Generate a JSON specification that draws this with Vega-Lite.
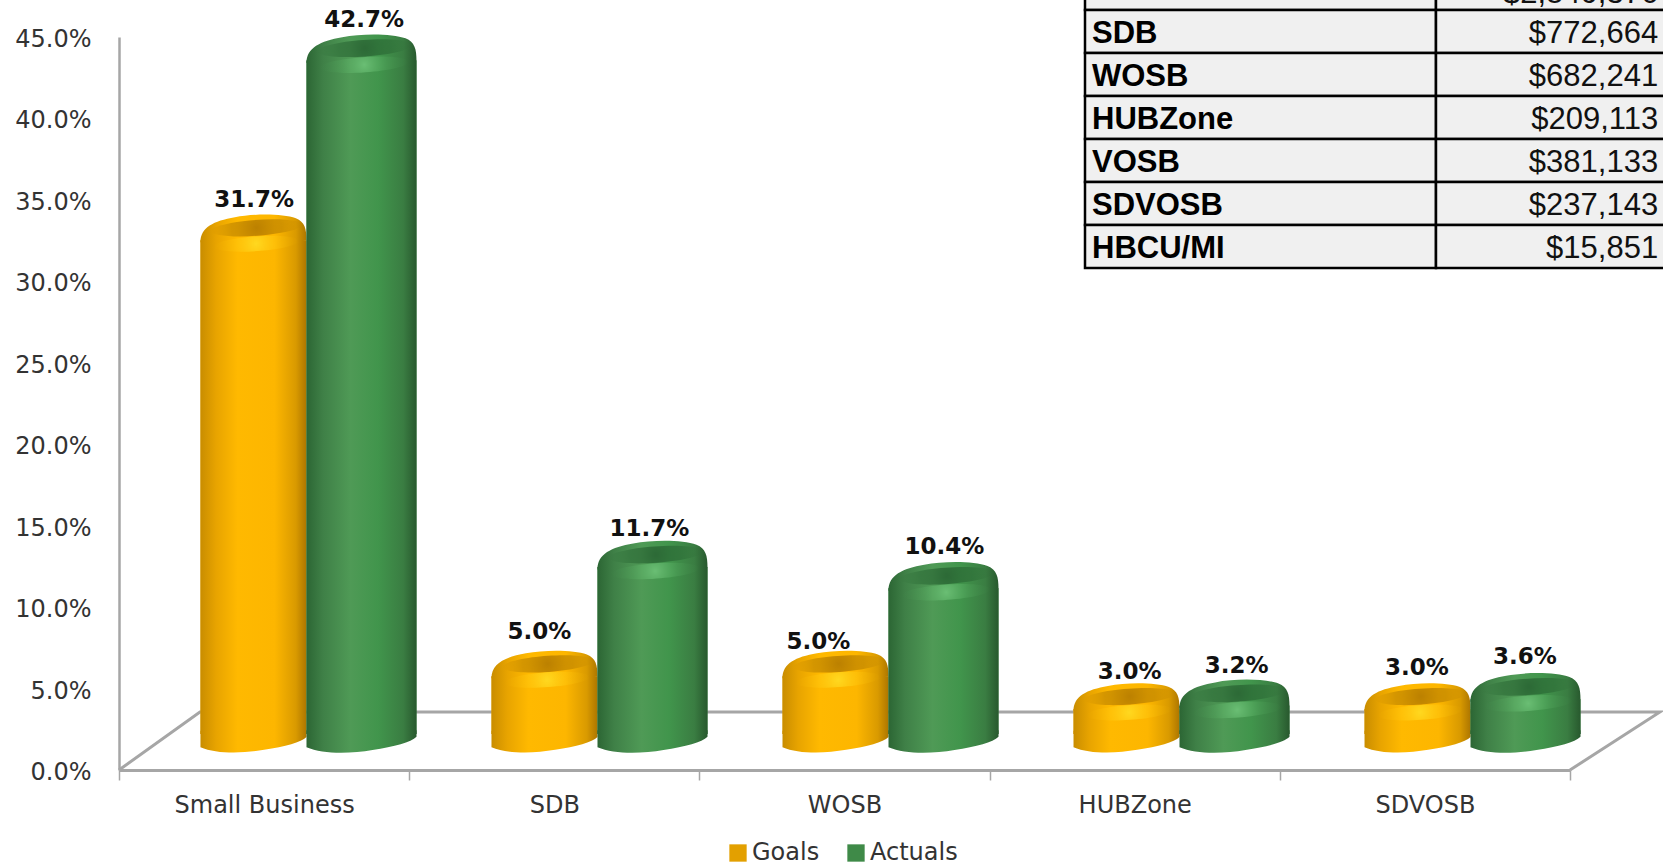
{
"$schema":"https://vega.github.io/schema/vega-lite/v6.json",
"width":1663,"height":865,"padding":0,"autosize":{"type":"none"},"background":"white",
"config":{"view":{"stroke":null},"font":"DejaVu Sans"},
"datasets":{
"chart":[
{"category":"Small Business","series":"Goals","value":0.317},
{"category":"SDB","series":"Goals","value":0.05},
{"category":"WOSB","series":"Goals","value":0.05},
{"category":"HUBZone","series":"Goals","value":0.03},
{"category":"SDVOSB","series":"Goals","value":0.03},
{"category":"Small Business","series":"Actuals","value":0.427},
{"category":"SDB","series":"Actuals","value":0.117},
{"category":"WOSB","series":"Actuals","value":0.104},
{"category":"HUBZone","series":"Actuals","value":0.032},
{"category":"SDVOSB","series":"Actuals","value":0.036}],
"table":[
{"row":"Small Business","amount":"$2,840,376"},
{"row":"SDB","amount":"$772,664"},
{"row":"WOSB","amount":"$682,241"},
{"row":"HUBZone","amount":"$209,113"},
{"row":"VOSB","amount":"$381,133"},
{"row":"SDVOSB","amount":"$237,143"},
{"row":"HBCU/MI","amount":"$15,851"}],
"floor":[
{"pt":0,"fx":0,"fy":0},{"pt":1,"fx":0.279,"fy":0.0356},{"pt":2,"fx":5.31,"fy":0.0356},{"pt":3,"fx":5,"fy":0}]
},
"data":{"name":"chart"},
"resolve":{"scale":{"x":"independent","y":"independent"},"axis":{"x":"independent","y":"independent"}},
"layer":[
{"data":{"name":"floor"},
 "mark":{"type":"line","color":"#a6a6a6","strokeWidth":3,"interpolate":"linear"},
 "encoding":{
  "x":{"field":"fx","type":"quantitative","axis":null,"scale":{"domain":[0,5],"range":[119,1570],"nice":false}},
  "y":{"field":"fy","type":"quantitative","axis":null,"scale":{"domain":[0,0.45],"range":[770,37],"nice":false}},
  "order":{"field":"pt","type":"ordinal"}}},
{"encoding":{
  "x":{"field":"category","type":"nominal","title":null,
   "scale":{"type":"band","domain":["Small Business","SDB","WOSB","HUBZone","SDVOSB"],"range":[119,1570],"paddingInner":0,"paddingOuter":0},
   "axis":{"orient":"bottom","offset":-95,"labelAngle":0,"labelLimit":400,"tickBand":"extent","domainColor":"#a6a6a6","domainWidth":3,"tickColor":"#a6a6a6","tickWidth":1.5,"tickSize":10,"labelPadding":13,"labelFontSize":24,"labelColor":"#333333","labelFont":"DejaVu Sans","grid":false}},
  "y":{"field":"value","type":"quantitative","title":null,
   "scale":{"domain":[0,0.45],"range":[770,37],"nice":false},
   "axis":{"orient":"left","offset":-119,"values":[0,0.05,0.1,0.15,0.2,0.25,0.3,0.35,0.4,0.45],"format":".1%","ticks":false,"labelPadding":28,"labelOffset":2.5,"domainColor":"#a6a6a6","domainWidth":2.5,"labelFontSize":24,"labelColor":"#333333","labelFont":"DejaVu Sans","grid":false}},
  "text":{"field":"value","type":"quantitative","format":".1%"}},
 "layer":[
  {"transform":[{"filter":"datum.series==='Goals' && datum.category==='Small Business'"}],"mark":{"type":"text","dx":-10,"dy":-54,"font":"DejaVu Sans","fontWeight":"bold","fontSize":23,"color":"#111111","baseline":"middle"}},
  {"transform":[{"filter":"datum.series==='Goals' && datum.category==='SDVOSB'"}],"mark":{"type":"text","dx":-8,"dy":-53,"font":"DejaVu Sans","fontWeight":"bold","fontSize":23,"color":"#111111","baseline":"middle"}},
  {"transform":[{"filter":"datum.series==='Goals' && datum.category==='SDB'"}],"mark":{"type":"text","dx":-15,"dy":-57,"font":"DejaVu Sans","fontWeight":"bold","fontSize":23,"color":"#111111","baseline":"middle"}},
  {"transform":[{"filter":"datum.series==='Goals' && datum.category==='WOSB'"}],"mark":{"type":"text","dx":-26,"dy":-47,"font":"DejaVu Sans","fontWeight":"bold","fontSize":23,"color":"#111111","baseline":"middle"}},
  {"transform":[{"filter":"datum.series==='Goals' && datum.category==='HUBZone'"}],"mark":{"type":"text","dx":-5,"dy":-49,"font":"DejaVu Sans","fontWeight":"bold","fontSize":23,"color":"#111111","baseline":"middle"}},
  {"transform":[{"filter":"datum.series==='Actuals' && datum.category==='SDB'"}],"mark":{"type":"text","dx":95,"dy":-50,"font":"DejaVu Sans","fontWeight":"bold","fontSize":23,"color":"#111111","baseline":"middle"}},
  {"transform":[{"filter":"datum.series==='Actuals' && datum.category==='HUBZone'"}],"mark":{"type":"text","dx":102,"dy":-52,"font":"DejaVu Sans","fontWeight":"bold","fontSize":23,"color":"#111111","baseline":"middle"}},
  {"transform":[{"filter":"datum.series==='Actuals' && datum.category!=='SDB' && datum.category!=='HUBZone'"}],"mark":{"type":"text","dx":100,"dy":-54,"font":"DejaVu Sans","fontWeight":"bold","fontSize":23,"color":"#111111","baseline":"middle"}}
 ]},
{"transform":[{"filter":"datum.series==='Goals'"}],
 "encoding":{
  "x":{"field":"category","type":"nominal","axis":null,"scale":{"type":"band","domain":["Small Business","SDB","WOSB","HUBZone","SDVOSB"],"range":[200.5,1470.5],"paddingInner":0.636,"paddingOuter":0}},
  "y":{"field":"value","type":"quantitative","axis":null,"scale":{"domain":[0,0.45],"range":[744,9],"nice":false}}},
 "layer":[
  {"mark":{"type":"bar","yOffset":14,"y2Offset":-10},
   "encoding":{"y2":{"datum":0},
    "color":{"field":"series","type":"nominal","scale":{"domain":["Goals","Actuals"],"range":["#e3a000","#3f8a48"]},
     "legend":{"title":null,"orient":"none","legendX":726,"legendY":841,"direction":"horizontal","columns":2,"symbolType":"square","symbolSize":300,"symbolStrokeWidth":0,"labelFontSize":24,"labelColor":"#333333","labelFont":"DejaVu Sans","columnPadding":24,"labelOffset":2}}}},
  {"mark":{"type":"bar","yOffset":14,"y2Offset":-10,"fill":{"gradient":"linear","x1":0,"y1":0,"x2":1,"y2":0,"stops":[{"offset":0,"color":"#c98d00"},{"offset":0.15,"color":"#e8a400"},{"offset":0.35,"color":"#ffb900"},{"offset":0.7,"color":"#fdb600"},{"offset":0.9,"color":"#d99a00"},{"offset":1,"color":"#ad7600"}]}},
   "encoding":{"y2":{"datum":0}}},
  {"mark":{"type":"point","filled":true,"opacity":1,"size":11236,"shape":"M-1,-0.25 L-1,0.06 C-0.7,0.19 -0.2,0.18 0.2,0.11 C0.6,0.05 0.9,-0.03 1,-0.13 L1,-0.25 Z","fill":{"gradient":"linear","x1":0,"y1":0,"x2":1,"y2":0,"stops":[{"offset":0,"color":"#c98d00"},{"offset":0.15,"color":"#e8a400"},{"offset":0.35,"color":"#ffb900"},{"offset":0.7,"color":"#fdb600"},{"offset":0.9,"color":"#d99a00"},{"offset":1,"color":"#ad7600"}]}},
   "encoding":{"y":{"datum":0}}},
  {"mark":{"type":"point","filled":true,"opacity":1,"size":11236,"shape":"M-1,0.3 C-1,0.02 -0.75,-0.1 -0.35,-0.17 C0,-0.24 0.55,-0.24 0.8,-0.15 C0.97,-0.08 1,0.05 1,0.26 C0.6,0.4 -0.5,0.42 -1,0.3 Z","fill":{"gradient":"linear","x1":0,"y1":0,"x2":1,"y2":0,"stops":[{"offset":0,"color":"#c98d00"},{"offset":0.15,"color":"#e8a400"},{"offset":0.35,"color":"#ffb900"},{"offset":0.7,"color":"#fdb600"},{"offset":0.9,"color":"#d99a00"},{"offset":1,"color":"#ad7600"}]}}},
  {"mark":{"type":"point","filled":true,"opacity":1,"size":11236,"shape":"M-0.74,0.03 A0.8,0.14 -4 1,1 0.86,0.03 A0.8,0.14 -4 1,1 -0.74,0.03 Z","fill":{"gradient":"radial","x1":0.5,"y1":0.5,"r1":0,"x2":0.5,"y2":0.5,"r2":0.5,"stops":[{"offset":0,"color":"rgba(165,110,0,0.75)"},{"offset":0.55,"color":"rgba(175,120,0,0.5)"},{"offset":1,"color":"rgba(190,130,0,0)"}]}}},
  {"mark":{"type":"point","filled":true,"opacity":1,"size":11236,"shape":"M-0.7,0.33 A0.75,0.13 -4 1,1 0.8,0.33 A0.75,0.13 -4 1,1 -0.7,0.33 Z","fill":{"gradient":"radial","x1":0.5,"y1":0.5,"r1":0,"x2":0.5,"y2":0.5,"r2":0.5,"stops":[{"offset":0,"color":"rgba(255,225,40,0.8)"},{"offset":0.5,"color":"rgba(255,205,20,0.3)"},{"offset":1,"color":"rgba(255,190,0,0)"}]}}}
 ]},
{"transform":[{"filter":"datum.series==='Actuals'"}],
 "encoding":{
  "x":{"field":"category","type":"nominal","axis":null,"scale":{"type":"band","domain":["Small Business","SDB","WOSB","HUBZone","SDVOSB"],"range":[306.5,1580.5],"paddingInner":0.622,"paddingOuter":0}},
  "y":{"field":"value","type":"quantitative","axis":null,"scale":{"domain":[0,0.45],"range":[744,9],"nice":false}}},
 "layer":[
  {"mark":{"type":"bar","yOffset":14,"y2Offset":-10},
   "encoding":{"y2":{"datum":0},
    "color":{"field":"series","type":"nominal","scale":{"domain":["Goals","Actuals"],"range":["#e3a000","#3f8a48"]},
     "legend":{"title":null,"orient":"none","legendX":726,"legendY":841,"direction":"horizontal","columns":2,"symbolType":"square","symbolSize":300,"symbolStrokeWidth":0,"labelFontSize":24,"labelColor":"#333333","labelFont":"DejaVu Sans","columnPadding":24,"labelOffset":2}}}},
  {"mark":{"type":"bar","yOffset":14,"y2Offset":-10,"fill":{"gradient":"linear","x1":0,"y1":0,"x2":1,"y2":0,"stops":[{"offset":0,"color":"#2c6634"},{"offset":0.15,"color":"#3f8047"},{"offset":0.4,"color":"#4f9a56"},{"offset":0.65,"color":"#41954c"},{"offset":0.88,"color":"#3a7d42"},{"offset":1,"color":"#28592e"}]}},
   "encoding":{"y2":{"datum":0}}},
  {"mark":{"type":"point","filled":true,"opacity":1,"size":12100,"shape":"M-1,-0.25 L-1,0.06 C-0.7,0.19 -0.2,0.18 0.2,0.11 C0.6,0.05 0.9,-0.03 1,-0.13 L1,-0.25 Z","fill":{"gradient":"linear","x1":0,"y1":0,"x2":1,"y2":0,"stops":[{"offset":0,"color":"#2c6634"},{"offset":0.15,"color":"#3f8047"},{"offset":0.4,"color":"#4f9a56"},{"offset":0.65,"color":"#41954c"},{"offset":0.88,"color":"#3a7d42"},{"offset":1,"color":"#28592e"}]}},
   "encoding":{"y":{"datum":0}}},
  {"mark":{"type":"point","filled":true,"opacity":1,"size":12100,"shape":"M-1,0.3 C-1,0.02 -0.75,-0.1 -0.35,-0.17 C0,-0.24 0.55,-0.24 0.8,-0.15 C0.97,-0.08 1,0.05 1,0.26 C0.6,0.4 -0.5,0.42 -1,0.3 Z","fill":{"gradient":"linear","x1":0,"y1":0,"x2":1,"y2":0,"stops":[{"offset":0,"color":"#2c6634"},{"offset":0.15,"color":"#3f8047"},{"offset":0.4,"color":"#4f9a56"},{"offset":0.65,"color":"#41954c"},{"offset":0.88,"color":"#3a7d42"},{"offset":1,"color":"#28592e"}]}}},
  {"mark":{"type":"point","filled":true,"opacity":1,"size":12100,"shape":"M-0.74,0.03 A0.8,0.14 -4 1,1 0.86,0.03 A0.8,0.14 -4 1,1 -0.74,0.03 Z","fill":{"gradient":"radial","x1":0.5,"y1":0.5,"r1":0,"x2":0.5,"y2":0.5,"r2":0.5,"stops":[{"offset":0,"color":"rgba(35,90,45,0.75)"},{"offset":0.55,"color":"rgba(40,100,50,0.5)"},{"offset":1,"color":"rgba(45,110,55,0)"}]}}},
  {"mark":{"type":"point","filled":true,"opacity":1,"size":12100,"shape":"M-0.7,0.33 A0.75,0.13 -4 1,1 0.8,0.33 A0.75,0.13 -4 1,1 -0.7,0.33 Z","fill":{"gradient":"radial","x1":0.5,"y1":0.5,"r1":0,"x2":0.5,"y2":0.5,"r2":0.5,"stops":[{"offset":0,"color":"rgba(115,200,125,0.8)"},{"offset":0.5,"color":"rgba(90,175,100,0.3)"},{"offset":1,"color":"rgba(70,150,80,0)"}]}}}
 ]},
{"data":{"name":"table"},
 "encoding":{
  "y":{"field":"row","type":"nominal","axis":null,"scale":{"type":"band","domain":["Small Business","SDB","WOSB","HUBZone","VOSB","SDVOSB","HBCU/MI"],"range":[-33,268],"paddingInner":0,"paddingOuter":0}}},
 "layer":[
  {"mark":{"type":"rect","fill":"#f0f0f0","stroke":"#000000","strokeWidth":2.5},
   "encoding":{"x":{"datum":0,"type":"quantitative","axis":null,"scale":{"domain":[0,1],"range":[1085,1700],"nice":false}},"x2":{"datum":0.5707}}},
  {"mark":{"type":"rect","fill":"#f0f0f0","stroke":"#000000","strokeWidth":2.5},
   "encoding":{"x":{"datum":0.5707,"type":"quantitative","axis":null},"x2":{"datum":1}}},
  {"transform":[{"filter":"datum.row!=='Small Business'"}],
   "mark":{"type":"text","align":"left","font":"Liberation Sans","fontWeight":"bold","fontSize":31,"color":"#000000","baseline":"middle","dx":7,"dy":2},
   "encoding":{"x":{"datum":0,"type":"quantitative","axis":null},"text":{"field":"row","type":"nominal"}}},
  {"transform":[{"filter":"datum.row!=='Small Business'"}],
   "mark":{"type":"text","align":"right","font":"Liberation Sans","fontSize":31,"color":"#111111","baseline":"middle","dy":2},
   "encoding":{"x":{"datum":0.932,"type":"quantitative","axis":null},"text":{"field":"amount","type":"nominal"}}},
  {"transform":[{"filter":"datum.row==='Small Business'"}],
   "mark":{"type":"text","align":"right","font":"Liberation Sans","fontSize":31,"color":"#111111","baseline":"middle","dy":5},
   "encoding":{"x":{"datum":0.932,"type":"quantitative","axis":null},"text":{"field":"amount","type":"nominal"}}}
 ]}
]}
